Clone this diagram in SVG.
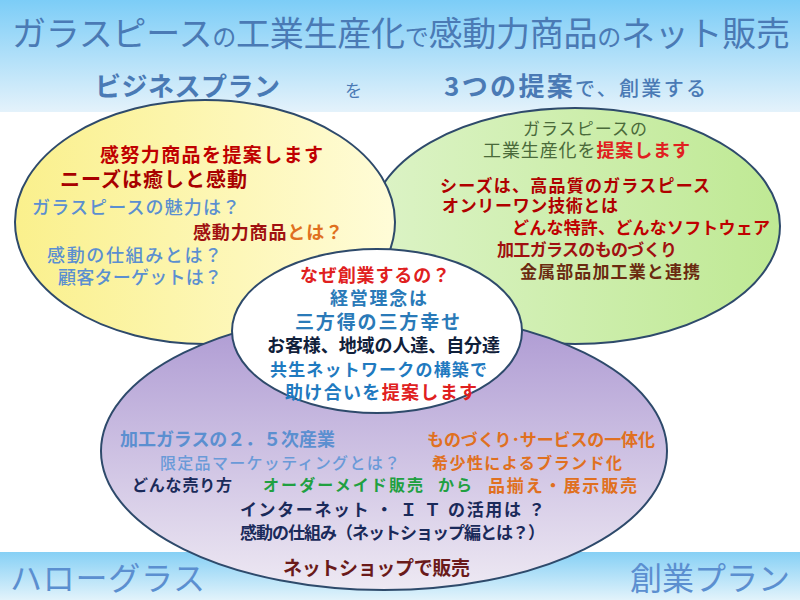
<svg xmlns="http://www.w3.org/2000/svg" width="800" height="600" viewBox="0 0 800 600">
<defs>
<linearGradient id="gTop" x1="0" y1="0" x2="0" y2="1"><stop offset="0" stop-color="#7ccdf7"/><stop offset="1" stop-color="#e4f2fb"/></linearGradient>
<linearGradient id="gBot" x1="0" y1="0" x2="0" y2="1"><stop offset="0" stop-color="#86d0f5"/><stop offset="1" stop-color="#e2f3fb"/></linearGradient>
<linearGradient id="gYel" x1="0" y1="0" x2="1" y2="0"><stop offset="0" stop-color="#faf08c"/><stop offset="1" stop-color="#fffcd8"/></linearGradient>
<linearGradient id="gGrn" x1="0" y1="0" x2="1" y2="0"><stop offset="0" stop-color="#dcf3c6"/><stop offset="1" stop-color="#bfe994"/></linearGradient>
<linearGradient id="gPur" x1="0" y1="0" x2="0" y2="1"><stop offset="0" stop-color="#ac98d2"/><stop offset="1" stop-color="#eee9f3"/></linearGradient>
<style>
text{font-family:"Noto Sans CJK JP","Noto Sans CJK SC",sans-serif;}
.b{font-weight:700;}
.m{font-weight:500;}
.ell{stroke:#2e4a6b;stroke-width:2;}
.blue{fill:#5b8fd0;}
.dred{fill:#b00000;}
.navy{fill:#1a2a5a;}
.or{fill:#e07020;}
.grn{fill:#4a6a3a;}
.red{fill:#e02020;}
.sb{fill:#2a7ab8;}
</style>
</defs>
<rect x="0" y="0" width="800" height="600" fill="#ffffff"/>
<rect x="0" y="0" width="800" height="112" fill="url(#gTop)"/>
<rect x="0" y="552" width="800" height="48" fill="url(#gBot)"/>
<g id="header">
<text x="12" y="46" font-size="34" fill="#4a7ab5" textLength="778">ガラスピース<tspan font-size="24">の</tspan>工業生産化<tspan font-size="24">で</tspan>感動力商品<tspan font-size="24">の</tspan>ネット販売</text>
<text x="95" y="96" font-size="26" class="b" fill="#4a7ab5" textLength="185">ビジネスプラン</text>
<text x="345" y="97" font-size="17" fill="#4a7ab5">を</text>
<text x="444" y="96" font-size="26" class="b" fill="#4a7ab5" textLength="262">3つの提案<tspan font-size="20" font-weight="500">で、創業する</tspan></text>
</g>
<g id="node-green">
<ellipse class="ell" cx="575" cy="226" rx="205" ry="118" fill="url(#gGrn)"/>
</g>
<g id="node-yellow">
<ellipse class="ell" cx="205" cy="222" rx="190" ry="122" fill="url(#gYel)"/>
</g>
<g id="node-purple">
<ellipse class="ell" cx="384" cy="451" rx="283" ry="139" fill="url(#gPur)"/>
</g>
<g id="node-white">
<ellipse class="ell" cx="377" cy="331" rx="145" ry="82" fill="#ffffff"/>
</g>
<g id="connectors"/>
<g id="text-yellow">
<text x="100" y="162" font-size="19" class="b" fill="#c00000" textLength="223">感努力商品を提案します</text>
<text x="60" y="187" font-size="20" class="b" fill="#a80000" textLength="187">ニーズは癒しと感動</text>
<text x="32" y="214" font-size="18" class="m blue" textLength="208">ガラスピースの魅力は？</text>
<text x="193" y="239" font-size="18" class="b" fill="#a01010" textLength="150">感動力商品<tspan class="or">とは？</tspan></text>
<text x="47" y="262" font-size="18" class="m blue" textLength="175">感動の仕組みとは？</text>
<text x="58" y="284" font-size="18" class="m blue" textLength="164">顧客ターゲットは？</text>
</g>
<g id="text-green">
<text x="523" y="135" font-size="17" class="grn" textLength="124">ガラスピースの</text>
<text x="483" y="157" font-size="18" class="grn" textLength="207">工業生産化を<tspan class="b red">提案します</tspan></text>
<text x="440" y="192" font-size="17" class="b dred" textLength="270">シーズは、高品質のガラスピース</text>
<text x="442" y="212" font-size="17" class="b dred" textLength="176">オンリーワン技術とは</text>
<text x="512" y="234" font-size="17" class="b" fill="#c00000" textLength="258">どんな特許、どんなソフトウェア</text>
<text x="497" y="256" font-size="17" class="b" fill="#a01010" textLength="180">加工ガラスのものづくり</text>
<text x="520" y="278" font-size="17" class="b" fill="#6a2a10" textLength="180">金属部品加工業と連携</text>
</g>
<g id="text-white">
<text x="300" y="282" font-size="18" class="b red" textLength="150">なぜ創業するの？</text>
<text x="330" y="305" font-size="18" class="b sb" textLength="97">経営理念は</text>
<text x="295" y="329" font-size="19" class="b sb" textLength="165">三方得の三方幸せ</text>
<text x="267" y="352" font-size="18" class="b" fill="#10203a" textLength="233">お客様、地域の人達、自分達</text>
<text x="270" y="376" font-size="17" class="b" fill="#1f7ac0" textLength="217">共生ネットワークの構築で</text>
<text x="285" y="399" font-size="18" class="b" fill="#1f7ac0" textLength="192">助け合いを<tspan class="red">提案します</tspan></text>
</g>
<g id="text-purple">
<text x="120" y="446" font-size="18" class="b blue" textLength="215">加工ガラスの２．５次産業</text>
<text x="160" y="469" font-size="16" class="m" fill="#6a9ad8" textLength="240">限定品マーケッティングとは？</text>
<text x="132" y="491" font-size="16" class="b navy" textLength="100">どんな売り方</text>
<text x="263" y="491" font-size="16" class="b" fill="#20a040" textLength="160">オーダーメイド販売</text>
<text x="438" y="491" font-size="16" class="b" fill="#20a040" textLength="34">から</text>
<text x="488" y="492" font-size="17" class="b or" textLength="149">品揃え・展示販売</text>
<text x="427" y="446" font-size="17" class="b or" textLength="228">ものづくり･サービスの一体化</text>
<text x="432" y="469" font-size="16" class="b or" textLength="190">希少性によるブランド化</text>
<text x="240" y="516" font-size="17" class="b navy" textLength="305">インターネット ・ Ｉ Ｔ の活用は ？</text>
<text x="240" y="539" font-size="17" class="b navy" textLength="305">感動の仕組み（ネットショップ編とは？）</text>
<text x="283" y="575" font-size="19" class="b" fill="#6a1a1a" textLength="187">ネットショップで販売</text>
</g>
<g id="footer">
<text x="10" y="590" font-size="32" fill="#5b8fd0" textLength="195">ハローグラス</text>
<text x="630" y="590" font-size="32" fill="#5b8fd0" textLength="160">創業プラン</text>
</g>
</svg>
